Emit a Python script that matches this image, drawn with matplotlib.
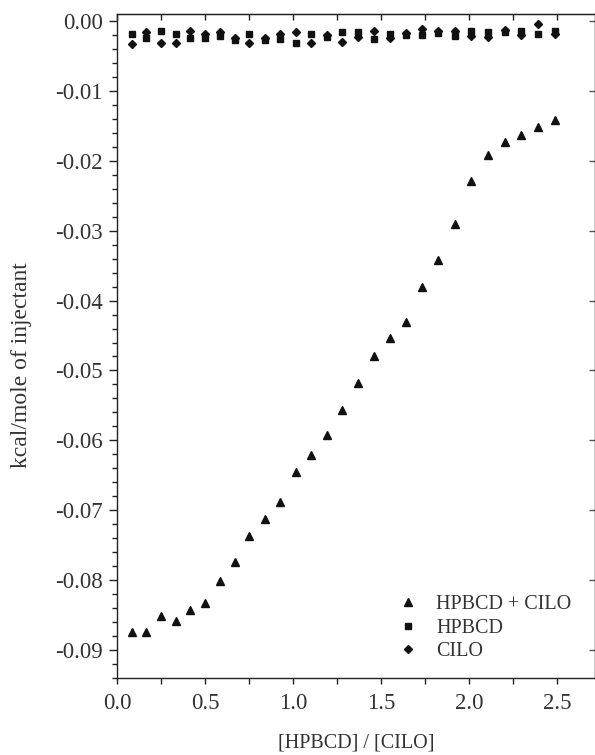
import matplotlib
matplotlib.use("Agg")
import matplotlib.pyplot as plt
from matplotlib.ticker import MultipleLocator, FormatStrFormatter

plt.rcParams['font.family'] = ['Liberation Serif', 'DejaVu Serif']
plt.rcParams['axes.unicode_minus'] = False

# Molar ratio for each injection
ratio = [0.085, 0.167, 0.248, 0.334, 0.413, 0.498, 0.584, 0.669, 0.753, 0.840,
         0.926, 1.015, 1.102, 1.191, 1.278, 1.371, 1.458, 1.549, 1.642, 1.733,
         1.827, 1.920, 2.013, 2.108, 2.205, 2.299, 2.395, 2.489]

# Heat per injection (kcal/mole of injectant)
hpbcd_cilo = [-0.0874, -0.0874, -0.0852, -0.0859, -0.0842, -0.0832, -0.0801, -0.0774,
              -0.0737, -0.0712, -0.0688, -0.0645, -0.0621, -0.0593, -0.0557, -0.0518,
              -0.0480, -0.0454, -0.0430, -0.0381, -0.0342, -0.0291, -0.0229, -0.0192,
              -0.0173, -0.0163, -0.0151, -0.0141]
hpbcd = [-0.0018, -0.0024, -0.0014, -0.0019, -0.0025, -0.0024, -0.0022, -0.0027,
         -0.0019, -0.0027, -0.0026, -0.0031, -0.0018, -0.0023, -0.0016, -0.0016,
         -0.0026, -0.0018, -0.0020, -0.0020, -0.0017, -0.0021, -0.0014, -0.0016,
         -0.0016, -0.0014, -0.0018, -0.0014]
cilo = [-0.0033, -0.0016, -0.0032, -0.0032, -0.0015, -0.0019, -0.0016, -0.0025,
        -0.0032, -0.0025, -0.0019, -0.0016, -0.0032, -0.0020, -0.0030, -0.0023,
        -0.0014, -0.0024, -0.0017, -0.0012, -0.0015, -0.0014, -0.0022, -0.0023,
        -0.0013, -0.0020, -0.0004, -0.0019]

series_labels = ['HPBCD + CILO', 'HPBCD', 'CILO']

fig = plt.figure(figsize=(5.95, 7.55), dpi=100)
ax = fig.add_axes([117 / 595, 1 - 678 / 755, (595 - 117) / 595, (678 - 14) / 755])

ink = '#111111'
ax.plot(ratio, hpbcd_cilo, linestyle='none', marker='^', ms=5.5, color=ink,
        label=series_labels[0])
ax.plot(ratio, hpbcd, linestyle='none', marker='s', ms=4.2, color=ink,
        label=series_labels[1])
ax.plot(ratio, cilo, linestyle='none', marker='D', ms=4.0, color=ink,
        label=series_labels[2])

ax.set_xlim(0, 2.717)
ax.set_ylim(-0.0940, 0.0010)

ax.xaxis.set_major_locator(MultipleLocator(0.5))
ax.xaxis.set_minor_locator(MultipleLocator(0.25))
ax.yaxis.set_major_locator(MultipleLocator(0.01))
ax.yaxis.set_minor_locator(MultipleLocator(0.002))
ax.xaxis.set_major_formatter(FormatStrFormatter('%.1f'))
ax.yaxis.set_major_formatter(FormatStrFormatter('%.2f'))

for s in ax.spines.values():
    s.set_linewidth(1.0)
    s.set_color('#222222')

text_color = '#333333'
ax.tick_params(axis='y', which='major', direction='out', length=6, width=1,
               labelsize=16.5, pad=4, colors='#222222', labelcolor=text_color)
ax.tick_params(axis='y', which='minor', direction='out', length=3.5, width=1,
               colors='#222222')
ax.tick_params(axis='x', which='both', direction='out', length=4, width=1,
               labelsize=16.5, pad=7, colors='#222222', labelcolor=text_color)

# Mirrored ticks on the top and right edges
top = ax.secondary_xaxis('top')
top.xaxis.set_major_locator(MultipleLocator(0.5))
top.xaxis.set_minor_locator(MultipleLocator(0.25))
top.tick_params(which='both', direction='in', length=4, width=1, labeltop=False,
                colors='#222222')
right = ax.secondary_yaxis('right')
right.yaxis.set_major_locator(MultipleLocator(0.01))
right.yaxis.set_minor_locator(MultipleLocator(0.002))
right.tick_params(which='major', direction='in', length=4, width=1,
                  labelright=False, colors='#555555')
right.tick_params(which='minor', length=0)

ax.set_xlabel('[HPBCD] / [CILO]', fontsize=14.5, color=text_color)
ax.xaxis.set_label_coords(0.5, -0.083)
ax.set_ylabel('kcal/mole of injectant', fontsize=17, color=text_color)
ax.yaxis.set_label_coords(-0.178, 0.471)

leg = ax.legend(loc='lower right', bbox_to_anchor=(0.98, 0.004), frameon=False,
                fontsize=14.5, handlelength=1.0, handletextpad=0.9,
                labelspacing=0.22, borderaxespad=0.3)
for t in leg.get_texts():
    t.set_color(text_color)

fig.savefig('out.png', dpi=100)
